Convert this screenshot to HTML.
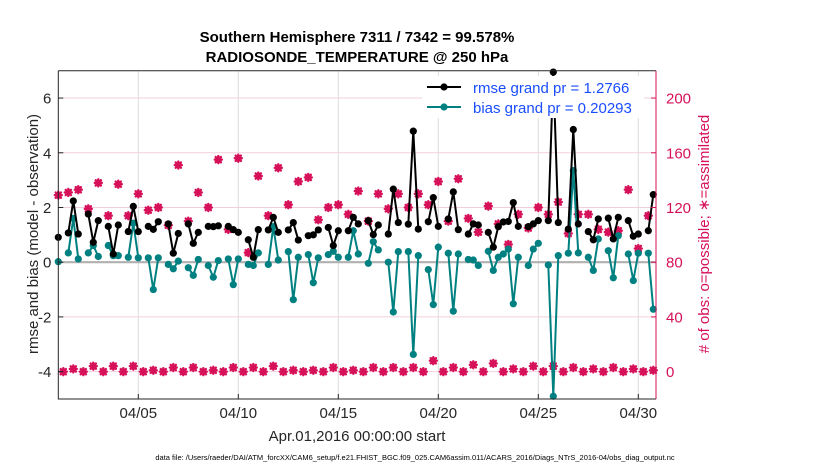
<!DOCTYPE html>
<html><head><meta charset="utf-8">
<style>
html,body{margin:0;padding:0;background:#fff;}
svg{display:block;font-family:"Liberation Sans",sans-serif;}
</style></head>
<body>
<svg id="chart" width="830" height="470" viewBox="0 0 830 470" xmlns="http://www.w3.org/2000/svg">
<g id="grid"></g>
<g id="series"></g>
<g id="axes"></g>
<text x="357" y="42" text-anchor="middle" font-size="15" font-weight="bold" fill="#000">Southern Hemisphere 7311 / 7342 = 99.578%</text>
<text x="357" y="62" text-anchor="middle" font-size="15" font-weight="bold" fill="#000">RADIOSONDE_TEMPERATURE @ 250 hPa</text>
<text transform="translate(38,234) rotate(-90)" text-anchor="middle" font-size="15" fill="#262626">rmse and bias (model - observation)</text>
<text transform="translate(709,234) rotate(-90)" text-anchor="middle" font-size="15" fill="#d6115a"># of obs: o=possible; &#8727;=assimilated</text>
<text x="357" y="441" text-anchor="middle" font-size="15" fill="#262626">Apr.01,2016 00:00:00 start</text>
<text x="415" y="460" text-anchor="middle" font-size="7.5" fill="#000">data file: /Users/raeder/DAI/ATM_forcXX/CAM6_setup/f.e21.FHIST_BGC.f09_025.CAM6assim.011/ACARS_2016/Diags_NTrS_2016-04/obs_diag_output.nc</text>
<g>
<rect x="422" y="76" width="222" height="42" fill="#fff"/>
<g>
<line x1="427" y1="87" x2="461" y2="87" stroke="#000" stroke-width="2"/>
<circle cx="444" cy="87" r="3.6" fill="#000"/>
<text x="473" y="93" font-size="15" fill="#1a4dff">rmse grand pr = 1.2766</text></g>
<g>
<line x1="427" y1="107" x2="461" y2="107" stroke="#008080" stroke-width="2"/>
<circle cx="444" cy="107" r="3.6" fill="#008080"/>
<text x="473" y="113" font-size="15" fill="#1a4dff">bias grand pr = 0.20293</text></g>
</g>
</svg>
<script>
const rmse = [0.91,null,1.07,2.24,1.03,null,1.76,0.73,1.52,null,1.31,0.30,1.36,null,1.12,2.04,1.12,null,1.31,1.2,1.48,null,1.40,0.33,1.05,null,1.40,0.69,1.09,null,
1.31,1.3,1.33,null,1.31,1.19,1.09,null,0.82,0.18,1.19,null,1.18,1.64,1.09,null,1.18,1.45,0.81,null,0.97,1.0,1.18,null,1.27,0.61,1.15,null,
1.15,1.64,1.40,null,1.52,1.01,1.36,null,1.03,2.67,1.45,null,1.39,4.79,1.21,null,1.48,2.36,1.31,null,1.58,2.57,1.19,null,1.03,1.40,1.36,null,1.09,0.55,
1.3,1.47,1.49,2.18,1.31,null,1.30,1.40,1.52,null,1.52,6.95,1.45,null,1.21,4.85,1.40,null,1.12,0.82,1.58,null,1.61,0.85,1.64,null,1.52,0.95,1.03,null,1.15,2.47];
const bias = [0.02,null,0.34,1.6,0.12,null,0.34,0.61,0.21,null,0.61,0.24,0.24,null,0.18,1.43,0.16,null,0.16,-1.0,0.16,null,-0.08,-0.24,0.04,null,-0.2,-0.48,0.1,null,
-0.12,-0.55,0.06,null,0.12,-0.82,0.12,null,-0.08,-0.12,0.34,null,-0.08,1.30,0.08,null,0.39,-1.37,0.18,null,0.28,-0.75,0.16,null,0.28,0.40,0.18,null,
0.18,1.15,0.30,null,-0.04,0.75,0.45,null,0.0,-1.82,0.39,null,0.39,-3.37,0.24,null,-0.27,-1.55,0.55,null,0.33,-1.79,0.30,null,0.10,0.08,-0.12,null,0.40,-0.30,
0.18,0.3,0.48,-1.52,0.18,null,-0.12,0.48,0.69,null,-0.1,-4.9,0.24,null,0.33,3.35,0.34,null,0.18,-0.3,0.85,null,0.42,-0.57,0.97,null,0.30,-0.67,0.33,null,0.33,-1.72];
const nobs = [129,0,131,2,133,0,119,4,138,0,114,4,137,0,114,4,130,0,118,1,120,0,107,3,151,0,110,3,131,0,
120,1,155,0,104,3,156,0,87,3,143,0,114,4,149,0,122,1,139,0,142,1,111,0,120,3,122,0,
115,1,132,0,110,3,130,0,119,3,130,0,120,3,130,0,122,8,139,0,110,3,141,0,112,5,102,0,121,6,
108,0,93,2,115,0,105,4,120,0,115,4,124,0,101,3,115,0,115,2,104,0,102,3,103,0,133,2,90,0,114,1];
const leftTicks = [-4,-2,0,2,4,6];
const rightTicks = [0,40,80,120,160,200];
const xTickDays = [5,10,15,20,25,30];
const xTickLabels = ["04/05","04/10","04/15","04/20","04/25","04/30"];
const startDay = 1, stepDays = 0.25;

const PL=58.3, PR=656, PT=70.7, PB=399;
const yMin=-5, yMax=7;
function X(day){ return PL + (day-1)*20; }
function Y(v){ return PT + (yMax - v)*(PB-PT)/(yMax-yMin); }
function YR(c){ return Y((c-80)/20); }
const NS="http://www.w3.org/2000/svg";
function mk(tag, attrs, parent){ const e=document.createElementNS(NS,tag); for(const k in attrs) e.setAttribute(k,attrs[k]); parent.appendChild(e); return e; }
const grid=document.getElementById('grid'), series=document.getElementById('series'), axes=document.getElementById('axes');

leftTicks.forEach(t=>{
  if(t!==0){ const g=mk('line',{x1:PL,x2:PR,y1:Y(t),y2:Y(t),stroke:'#f3cfdc','stroke-width':1},grid);
  
   }
  const tk=mk('line',{x1:PL,x2:PL+5,y1:Y(t),y2:Y(t),stroke:'#262626','stroke-width':1},axes);
  
  
  const tl=mk('text',{x:PL-7,y:Y(t)+5.5,'text-anchor':'end','font-size':15,fill:'#262626'},axes);
  tl.textContent=t;
  
  
});
rightTicks.forEach(t=>{
  const tk=mk('line',{x1:PR-5,x2:PR,y1:YR(t),y2:YR(t),stroke:'#d6115a','stroke-width':1},axes);
  
  
  const tl=mk('text',{x:PR+10,y:YR(t)+5.5,'font-size':15,fill:'#d6115a'},axes);
  tl.textContent=t;
  
  
});
xTickDays.forEach((d,i)=>{
  const g=mk('line',{x1:X(d),x2:X(d),y1:PT,y2:PB,stroke:'#dcdcdc','stroke-width':1},grid);
  
  
  const tk=mk('line',{x1:X(d),x2:X(d),y1:PB-5,y2:PB,stroke:'#262626'},axes);
  
  
  const tl=mk('text',{x:X(d),y:PB+19,'text-anchor':'middle','font-size':15,fill:'#262626'},axes);
  tl.textContent=xTickLabels[i];
  
  
});
const zl=mk('line',{x1:PL,x2:PR,y1:Y(0),y2:Y(0),stroke:'#b0b0b0','stroke-width':2.2},grid);



const fl=mk('path',{d:`M${PL},${PT}H${PR}M${PL},${PT}V${PB}H${PR}`,fill:'none',stroke:'#262626','stroke-width':1},axes);


const ra=mk('line',{x1:PR,x2:PR,y1:PT,y2:PB,stroke:'#d6115a','stroke-width':1},axes);



function dayOf(i){ return startDay + i*stepDays; }

nobs.forEach((c,i)=>{
  if(c===null) return;
  const x=X(dayOf(i)), y=YR(c);
  const s=mk('path',{d:`M${x-3.5},${y}H${x+3.5}M${x},${y-3.5}V${y+3.5}M${x-2.6},${y-2.6}L${x+2.6},${y+2.6}M${x-2.6},${y+2.6}L${x+2.6},${y-2.6}`,stroke:'#d6115a','stroke-width':2.4,'stroke-linecap':'round',fill:'none'},series);
  
  
});

function drawLine(arr,color,name){
  let segs=[],cur=[];
  arr.forEach((v,i)=>{ if(v===null){ if(cur.length) segs.push(cur); cur=[]; } else cur.push([X(dayOf(i)),Y(v)]); });
  if(cur.length) segs.push(cur);
  segs.forEach(seg=>{
    if(seg.length>1){
      const p=mk('polyline',{points:seg.map(q=>q.join(',')).join(' '),fill:'none',stroke:color,'stroke-width':2,'stroke-linejoin':'round'},series);
      
      
    }
    seg.forEach(q=>{
      const c=mk('circle',{cx:q[0],cy:q[1],r:3.6,fill:color},series);
      
      
    });
  });
}
drawLine(bias,'#008080','bias');
drawLine(rmse,'#000000','rmse');
</script>
</body></html>
